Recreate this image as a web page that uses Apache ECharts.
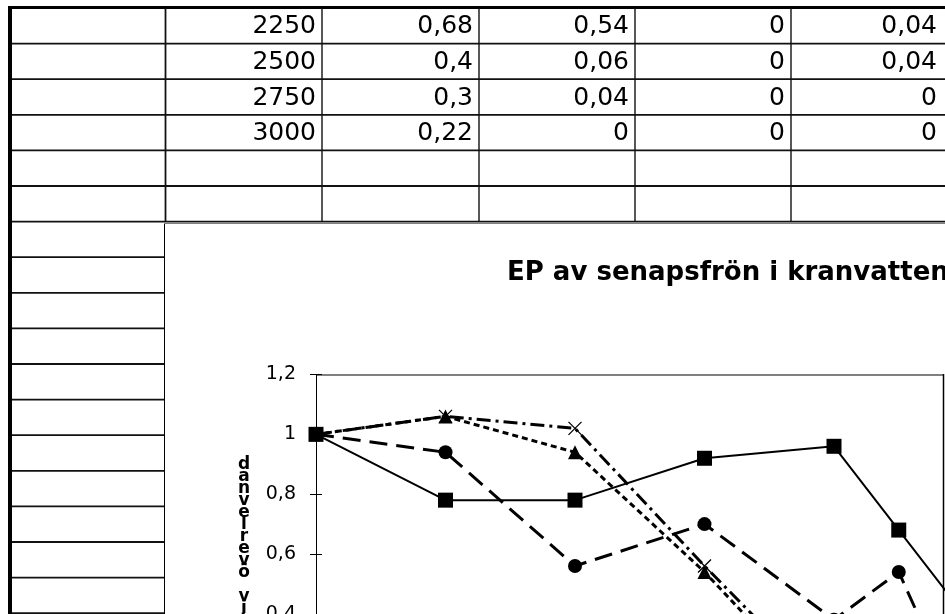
<!DOCTYPE html>
<html>
<head>
<meta charset="utf-8">
<script src="https://cdn.jsdelivr.net/npm/echarts@6/dist/echarts.min.js"></script>
<style>
html,body{margin:0;padding:0;background:#fff;}
#chart{width:945px;height:614px;}
</style>
</head>
<body>
<div id="chart"></div>
<script>
// ---- data ----
var xValues = [0, 500, 1000, 1500, 2000, 2250, 2500, 2750, 3000];
var squareValues = [1, 0.78, 0.78, 0.92, 0.96, 0.68, 0.4, 0.3, 0.22];
var circleValues = [1, 0.94, 0.56, 0.7, 0.38, 0.54, 0.06, 0.04, 0];
var triangleValues = [1, 1.06, 0.94, 0.54, 0.08, 0, 0, 0, 0];
var crossValues = [1, 1.06, 1.02, 0.56, 0.12, 0.04, 0.04, 0, 0];
var tableFirstIndex = 5; // spreadsheet rows shown: x = 2250 .. 3000
var chartTitle = 'EP av senapsfrön i kranvatten';
var yAxisTitle = 'Relativ överlevnad';

function fmt(v) { return String(+(+v).toFixed(2)).replace('.', ','); }
function pairs(vals) { return xValues.map(function (x, i) { return [x, vals[i]]; }); }

// ---- spreadsheet layout ----
var rowTop = 8, rowH = 35.6;
var colRights = [322, 479, 635, 791, 943];
var graphics = [];
graphics.push({type:'rect', shape:{x:8, y:6, width:4, height:608}, style:{fill:'#000'}});
graphics.push({type:'rect', shape:{x:8, y:6, width:937, height:3}, style:{fill:'#000'}});
for (var k = 1; k <= 17; k++) {
  var yy = rowTop + rowH * k;
  graphics.push({type:'line', shape:{x1:12, y1:yy, x2:(k <= 6 ? 945 : 164), y2:yy},
    style:{stroke:'#111', lineWidth:1.8}});
}
graphics.push({type:'line', shape:{x1:165.5, y1:8, x2:165.5, y2:222}, style:{stroke:'#111', lineWidth:1.8}});
[322, 479, 635, 791].forEach(function (cx) {
  graphics.push({type:'line', shape:{x1:cx, y1:8, x2:cx, y2:222}, style:{stroke:'#111', lineWidth:1.4}});
});
// chart object frame
graphics.push({type:'line', shape:{x1:164.5, y1:223, x2:164.5, y2:614}, style:{stroke:'#000', lineWidth:1}});
graphics.push({type:'line', shape:{x1:164, y1:223.5, x2:945, y2:223.5}, style:{stroke:'#808080', lineWidth:1.2}});
// plot area border (top gray, right dark)
graphics.push({type:'line', shape:{x1:316, y1:375, x2:943, y2:375}, style:{stroke:'#808080', lineWidth:2}});
graphics.push({type:'line', shape:{x1:943.5, y1:374, x2:943.5, y2:614}, style:{stroke:'#000', lineWidth:1.5}});

// table cell texts, built from the data arrays
var tableSeries = [xValues, squareValues, circleValues, triangleValues, crossValues];
for (var r = 0; r < xValues.length - tableFirstIndex; r++) {
  var idx = tableFirstIndex + r;
  tableSeries.forEach(function (arr, c) {
    graphics.push({type:'text', style:{
      text: fmt(arr[idx]), x: colRights[c] - 6, y: rowTop + rowH * (r + 0.5) + 1,
      align:'right', verticalAlign:'middle', textAlign:'right', textVerticalAlign:'middle',
      font:'25px "DejaVu Sans"', fill:'#000'}});
  });
}
// stacked vertical axis title (characters bottom-to-top)
graphics.push({type:'text', style:{
  text: yAxisTitle.split('').reverse().join('\n'),
  x: 244, y: 459, align:'center', verticalAlign:'top', textAlign:'center', textVerticalAlign:'top',
  font:'bold 17px "DejaVu Sans"', lineHeight: 12, fill:'#000'}});

var chart = echarts.init(document.getElementById('chart'), null, {renderer:'canvas'});
var crossPath = 'path://M0,0L10,10M10,0L0,10';
chart.setOption({
  backgroundColor:'#fff',
  animation:false,
  title:{text: chartTitle, left: 502, top: 255,
    textStyle:{fontFamily:'DejaVu Sans', fontWeight:'bold', fontSize:26, color:'#000'}},
  graphic: graphics,
  grid:{left:316, top:374.5, width:777, height:359, outerBoundsMode:'none', containLabel:false},
  xAxis:{type:'value', min:0, max:3000, axisLabel:{show:false}, axisTick:{show:false},
    splitLine:{show:false}, axisLine:{lineStyle:{color:'#000'}}},
  yAxis:[{type:'value', min:0, max:1.2, interval:0.2,
    axisLine:{show:true, lineStyle:{color:'#000', width:1}},
    axisTick:{show:true, length:6, lineStyle:{color:'#000'}},
    splitLine:{show:false},
    axisLabel:{margin:20, color:'#000', fontFamily:'DejaVu Sans', fontSize:19,
      formatter:function (v) { return fmt(v); }}},
    {type:'value', min:0, max:1.2, interval:0.2, position:'left',
    axisLine:{show:false}, axisLabel:{show:false}, splitLine:{show:false},
    axisTick:{show:true, inside:true, length:6, lineStyle:{color:'#000'}}}],
  series:[
    {type:'line', data:pairs(crossValues), symbol:crossPath, symbolSize:13,
      itemStyle:{color:'#000', borderColor:'#000', borderWidth:1.3},
      lineStyle:{color:'#000', width:3, type:[14,5,3,5]}},
    {type:'line', data:pairs(triangleValues), symbol:'triangle', symbolSize:14,
      itemStyle:{color:'#000'}, lineStyle:{color:'#000', width:3, type:[6,4]}},
    {type:'line', data:pairs(circleValues), symbol:'circle', symbolSize:14,
      itemStyle:{color:'#000'}, lineStyle:{color:'#000', width:3, type:[18,9]}},
    {type:'line', data:pairs(squareValues), symbol:'rect', symbolSize:15,
      itemStyle:{color:'#000'}, lineStyle:{color:'#000', width:2, type:'solid'}}
  ]
});
</script>
</body>
</html>
